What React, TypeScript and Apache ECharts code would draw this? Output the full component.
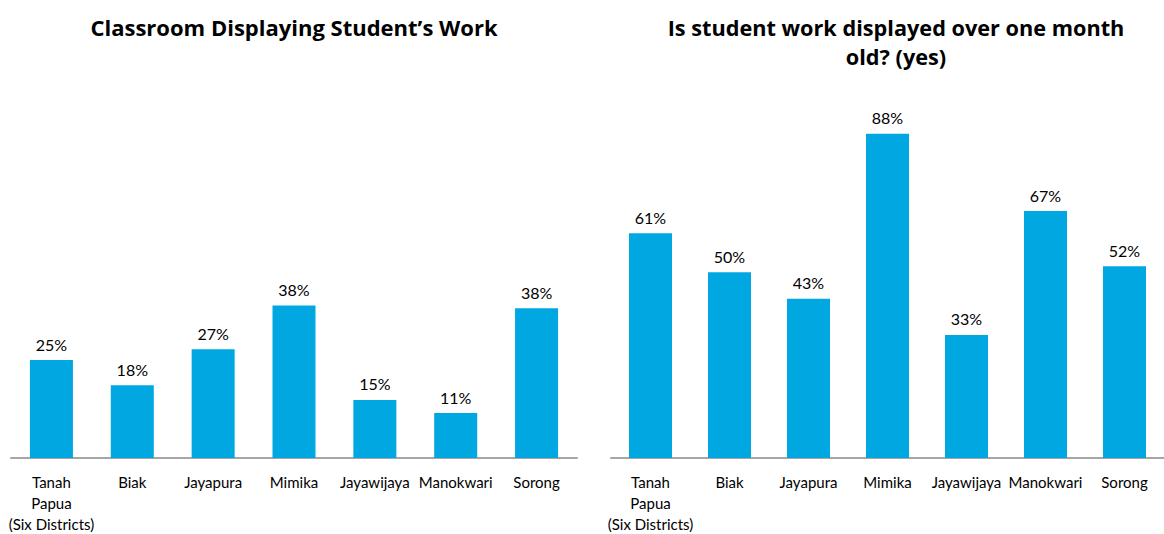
import React, { useEffect, useRef } from "react";
import * as echarts from "echarts";

const categories = ["Tanah\nPapua\n(Six Districts)", "Biak", "Jayapura", "Mimika", "Jayawijaya", "Manokwari", "Sorong"];
const displayingWork = [24.6, 18.3, 27.3, 38.3, 14.6, 11.3, 37.6];
const overOneMonth = [61.0, 50.4, 43.2, 88.0, 33.4, 67.0, 52.0];
const titleLeft = "Classroom Displaying Student\u2019s Work";
const titleRight = "Is student work displayed over one month\nold? (yes)";

const FONT = "Lato, 'Open Sans', sans-serif";
const TFONT = "'Open Sans', Lato, sans-serif";
const BAR = "#00A7E1";

export default function App() {
  const ref = useRef<HTMLDivElement>(null);
  useEffect(() => {
    if (!ref.current) return;
    const chart = echarts.init(ref.current, null, { renderer: "svg" });
    const axisX = (gi: number) => ({
      type: "category",
      gridIndex: gi,
      data: categories,
      axisTick: { show: false },
      axisLine: { lineStyle: { color: "#A6A6A6", width: 2 } },
      axisLabel: { interval: 0, fontSize: 15, color: "#000", margin: 13, lineHeight: 21, fontFamily: FONT },
    });
    const axisY = (gi: number) => ({
      type: "value",
      gridIndex: gi,
      min: 0,
      max: 100,
      show: false,
      splitLine: { show: false },
    });
    const bar = (gi: number, data: number[]) => ({
      type: "bar",
      xAxisIndex: gi,
      yAxisIndex: gi,
      data,
      barWidth: 43,
      itemStyle: { color: BAR },
      label: {
        show: true,
        position: "top",
        distance: 8,
        fontSize: 16,
        color: "#000",
        fontFamily: FONT,
        formatter: (p: any) => Math.round(p.value) + "%",
      },
    });
    chart.setOption({
      animation: false,
      textStyle: { fontFamily: FONT },
      title: [
        {
          text: titleLeft,
          left: 289,
          top: 7.5,
          textAlign: "center",
          textStyle: { fontSize: 22, fontWeight: "bold", color: "#000", lineHeight: 29, fontFamily: TFONT },
        },
        {
          text: titleRight,
          left: 891,
          top: 7.5,
          textAlign: "center",
          textStyle: { fontSize: 21.7, fontWeight: "bold", color: "#000", lineHeight: 29, fontFamily: TFONT },
        },
      ],
      grid: [
        { left: 11, top: 60, width: 566, height: 400 },
        { left: 611, top: 89.4, width: 566, height: 370.6 },
      ],
      xAxis: [axisX(0), axisX(1)],
      yAxis: [axisY(0), axisY(1)],
      series: [bar(0, displayingWork), bar(1, overOneMonth)],
    });
    return () => chart.dispose();
  }, []);
  return (
    <div
      ref={ref}
      style={{ position: "absolute", left: 0, top: 0, width: 1164, height: 534, background: "#fff" }}
    />
  );
}
